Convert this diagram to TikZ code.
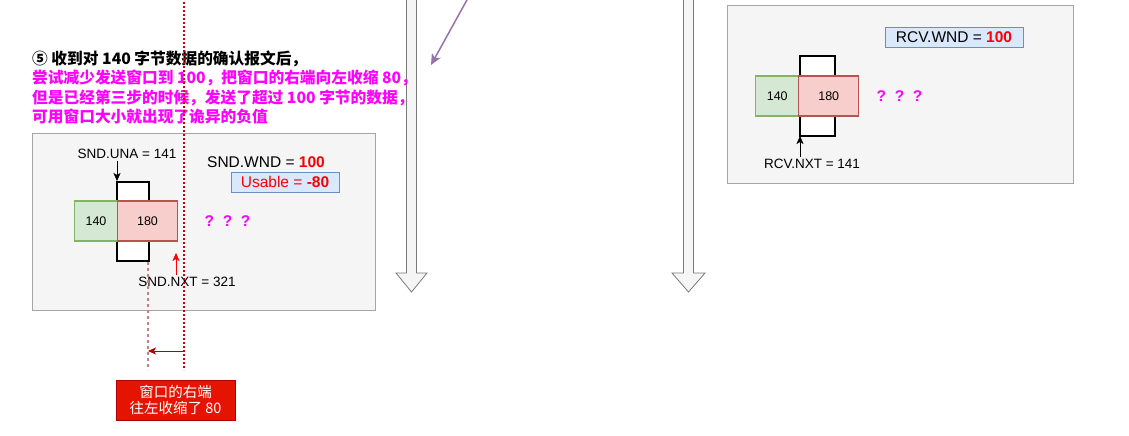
\documentclass[tikz,border=0pt]{standalone}
\usepackage{fontspec}
\setmainfont{Liberation Sans}
\newfontfamily\cjk{Noto Sans CJK SC}
\usetikzlibrary{arrows.meta}
\usetikzlibrary{calc}
\usetikzlibrary{positioning}

\definecolor{panelfill}{HTML}{F5F5F5}
\definecolor{paneledge}{HTML}{A6A6A6}
\definecolor{lineedge}{HTML}{7A7A7A}
\definecolor{oldfill}{HTML}{D5E8D4}
\definecolor{oldedge}{HTML}{82B366}
\definecolor{newfill}{HTML}{F8CECC}
\definecolor{newedge}{HTML}{B85450}
\definecolor{wndfill}{HTML}{DAE8FC}
\definecolor{wndedge}{HTML}{6C8EBF}
\definecolor{wndred}{HTML}{FF0000}
\definecolor{qcolor}{HTML}{FF00FF}
\definecolor{ackpurple}{HTML}{9673A6}
\definecolor{dotred}{HTML}{CC0000}
\definecolor{dotpale}{HTML}{D27C7C}
\definecolor{arrowred}{HTML}{B20000}
\definecolor{notefill}{HTML}{E51400}

\begin{document}
\begin{tikzpicture}[x=1pt, y=-1pt, >={Stealth[length=8pt, width=7pt, inset=2pt]},
    panel/.style={draw=paneledge, fill=panelfill, line width=1pt},
    winframe/.style={draw=black, fill=white, line width=2.5pt},
    segold/.style={draw=oldedge, fill=oldfill, line width=1.2pt, minimum width=43,
      minimum height=40, outer sep=0, font=\fontsize{12.5}{14}\selectfont},
    segnew/.style={draw=newedge, fill=newfill, line width=1.2pt, minimum width=60,
      minimum height=40, outer sep=0, font=\fontsize{12.5}{14}\selectfont},
    wndbox/.style={draw=wndedge, fill=wndfill, line width=0.8pt, inner sep=0,
      minimum height=20, font=\fontsize{15.5}{18}\selectfont},
    lbl/.style={inner sep=2pt, font=\fontsize{13.5}{16}\selectfont},
    big/.style={inner sep=2pt, font=\fontsize{15.5}{18}\selectfont},
    qmark/.style={text=qcolor, font=\bfseries\fontsize{15.5}{18}\selectfont},
    timeline/.style={draw=lineedge, fill=panelfill, line width=0.8pt},
    heading/.style={anchor=base west, inner sep=0,
      font=\cjk\bfseries\fontsize{15.7}{19}\selectfont},
    notebox/.style={draw=arrowred, fill=notefill, text=white, align=center,
      inner sep=0, font=\cjk\fontsize{14.5}{16}\selectfont}]

  \useasboundingbox (0,0) rectangle (1129,436);

  % panels
  \node[panel, minimum width=343, minimum height=177] (sndpanel) at (203.5,221.5) {};
  \node[panel, minimum width=346, minimum height=177] (rcvpanel) at (900,94.5) {};

  % time lines
  \foreach \tx/\hw in {411.5/15.5, 688.5/16.5}
    \draw[timeline] (\tx-5,-3) -- (\tx-5,273) -- (\tx-\hw,273) -- (\tx,292)
      -- (\tx+\hw,273) -- (\tx+5,273) -- (\tx+5,-3) -- cycle;

  % incoming ack
  \coordinate (ackfrom) at (468,-2);
  \coordinate (ackto) at (431,65);
  \draw[-{Stealth[length=11pt, width=10pt, inset=3pt]}, draw=ackpurple, line width=1.5pt]
    (ackfrom) -- (ackto);

  % step text
  \node[heading] (step1) at (32,65) {⑤\ 收到对 140 字节数据的确认报文后，};
  \node[heading, text=qcolor] (step2) at (32,84) {尝试减少发送窗口到 100，把窗口的右端向左收缩 80，};
  \node[heading, text=qcolor] (step3) at (32,103) {但是已经第三步的时候，发送了超过 100 字节的数据，};
  \node[heading, text=qcolor] (step4) at (32,122) {可用窗口大小就出现了诡异的负值};

  % sender window
  \node[winframe, minimum width=32, minimum height=79] (sndwin) at (133,221.5) {};
  \node[segold] (sndold) at (96,221) {140};
  \node[segnew, right=0pt of sndold] (sndnew) {180};
  \node[qmark] (sndq) at (227.5,221) {?\ \ ?\ \ ?};

  \node[lbl] (una) at (127,154) {SND.UNA = 141};
  \coordinate (unatip) at (117,181);
  \draw[->] (unatip |- una.south) -- (unatip);

  \node[lbl] (nxt) at (187,282) {SND.NXT = 321};
  \coordinate (nxttip) at (176,253);
  \draw[->, draw=wndred] (nxttip |- nxt.north) -- (nxttip);

  \node[big] (sndwnd) at (266,162) {SND.WND = \textcolor{wndred}{\textbf{100}}};
  \node[wndbox, minimum width=108, text=wndred] (usable) at (285,182) {Usable = \textbf{-80}};

  % right edge moves left
  \coordinate (oldtop) at (184,-2);
  \coordinate (oldbot) at (184,370);
  \coordinate (newtop) at (148,262);
  \coordinate (newbot) at (148,370);
  \draw[dotred, line width=1.2pt, dash pattern=on 2pt off 2pt] (oldtop) -- (oldbot);
  \draw[dotpale, line width=1.5pt, dash pattern=on 3pt off 3pt] (newtop) -- (newbot);
  \coordinate (shiftfrom) at (184,351);
  \coordinate (shiftto) at (148,351);
  \draw[->, draw=arrowred, line width=0.8pt] (shiftfrom) -- (shiftto);
  \node[notebox, minimum width=119, minimum height=40] (shrink) at (175.5,400)
    {窗口的右端\\往左收缩了 80};

  % receiver window
  \node[winframe, minimum width=35, minimum height=80] (rcvwin) at (817.5,96) {};
  \node[segold, anchor=east] (rcvold) at (rcvwin.west |- 0,96) {140};
  \node[segnew, right=0pt of rcvold] (rcvnew) {180};
  \node[qmark] (rcvq) at (899.5,96) {?\ \ ?\ \ ?};

  \node[wndbox, minimum width=138] (rcvwnd) at (954,37) {RCV.WND = \textcolor{wndred}{\textbf{100}}};
  \node[lbl] (rnxt) at (812,164) {RCV.NXT = 141};
  \coordinate (rnxttip) at (800,136);
  \draw[->] (rnxttip |- rnxt.north) -- (rnxttip);
\end{tikzpicture}
\end{document}
